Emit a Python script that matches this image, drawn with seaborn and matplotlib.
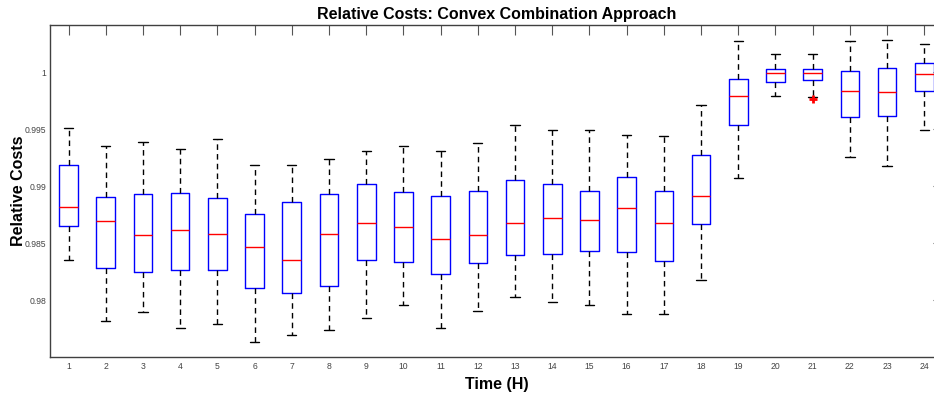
import numpy as np
import pandas as pd
import matplotlib
matplotlib.use("Agg")
import matplotlib.pyplot as plt
import seaborn as sns

# Hourly relative-cost distributions (five-number summaries)
hours = [str(h) for h in range(1, 25)]
whisker_low = [0.98358, 0.97815, 0.97900, 0.97757, 0.97795, 0.97635, 0.97693, 0.97736,
               0.97845, 0.97962, 0.97760, 0.97906, 0.98029, 0.97982, 0.97955, 0.97883,
               0.97877, 0.98178, 0.99071, 0.99795, 0.99785, 0.99261, 0.99179, 0.99492]
quartile_1 = [0.98651, 0.98280, 0.98245, 0.98262, 0.98265, 0.98104, 0.98061, 0.98128,
              0.98350, 0.98336, 0.98230, 0.98327, 0.98397, 0.98402, 0.98435, 0.98428,
              0.98347, 0.98665, 0.99538, 0.99918, 0.99930, 0.99606, 0.99620, 0.99836]
median = [0.98820, 0.98695, 0.98572, 0.98616, 0.98581, 0.98464, 0.98353, 0.98581,
          0.98682, 0.98642, 0.98542, 0.98569, 0.98677, 0.98718, 0.98706, 0.98809,
          0.98674, 0.98914, 0.99795, 0.99997, 0.99994, 0.99834, 0.99825, 0.99982]
quartile_3 = [0.99191, 0.98910, 0.98931, 0.98945, 0.98893, 0.98753, 0.98864, 0.98934,
              0.99024, 0.98949, 0.98914, 0.98963, 0.99057, 0.99022, 0.98963, 0.99080,
              0.98963, 0.99276, 0.99944, 1.00029, 1.00029, 1.00014, 1.00040, 1.00079]
whisker_high = [0.99515, 0.99352, 0.99392, 0.99328, 0.99416, 0.99191, 0.99191, 0.99243,
                0.99313, 0.99352, 0.99313, 0.99378, 0.99541, 0.99497, 0.99495, 0.99448,
                0.99442, 0.99716, 1.00274, 1.00158, 1.00163, 1.00271, 1.00280, 1.00251]
outlier_hours = ["21"]
outlier_values = [0.99765]

ytick_values = [0.98, 0.985, 0.99, 0.995, 1.0]
ytick_labels = ["0.98", "0.985", "0.99", "0.995", "1"]

# Long-form samples whose quartiles and whisker ends equal the summaries above
rows = []
for i, h in enumerate(hours):
    lo = whisker_low[i]
    first_low = lo
    if h in outlier_hours:
        first_low = outlier_values[outlier_hours.index(h)]
    vals = [first_low, lo, quartile_1[i], quartile_1[i], median[i],
            quartile_3[i], quartile_3[i], whisker_high[i], whisker_high[i]]
    rows += [(h, v) for v in vals]
df = pd.DataFrame(rows, columns=["hour", "cost"])

sns.set_style("white")
plt.rcParams["font.family"] = ["Liberation Sans", "DejaVu Sans"]
plt.rcParams["text.color"] = "black"
plt.rcParams["axes.labelcolor"] = "black"

fig = plt.figure(figsize=(9.34, 3.94), dpi=100)
ax = fig.add_axes([0.0535, 0.0947, 0.956, 0.8418])

sns.boxplot(data=df, x="hour", y="cost", order=hours, ax=ax,
            width=0.5, fill=False, linecolor="blue", linewidth=1.0, whis=1.5,
            boxprops=dict(color="blue"),
            medianprops=dict(color="red", linewidth=1.0),
            whiskerprops=dict(color="black", linestyle=(0, (4, 3)), linewidth=1.0),
            capprops=dict(color="black", linewidth=1.0),
            flierprops=dict(marker="+", markeredgecolor="red", markerfacecolor="red",
                            markersize=6, markeredgewidth=2))

ax.set_xlim(-0.5, 23.5)
ax.set_ylim(0.97506, 1.00414)
ax.set_yticks(ytick_values)
ax.set_yticklabels(ytick_labels)

for side in ["left", "bottom", "top", "right"]:
    ax.spines[side].set_color("#404040")
    ax.spines[side].set_linewidth(1.0)

ax.tick_params(axis="both", direction="in", length=7, width=0.8, color="#555555",
               labelsize=6.2, labelcolor="#444444", top=True, right=True)
ax.tick_params(axis="x", pad=3.5)
ax.tick_params(axis="y", pad=2.5)

ax.set_title("Relative Costs: Convex Combination Approach", fontsize=11.5,
             fontweight="bold", pad=4, color="black")
ax.set_xlabel("Time (H)", fontsize=11.5, fontweight="bold", labelpad=5)
ax.set_ylabel("Relative Costs", fontsize=11.5, fontweight="bold", labelpad=-0.5)

fig.savefig("out.png", dpi=100)
